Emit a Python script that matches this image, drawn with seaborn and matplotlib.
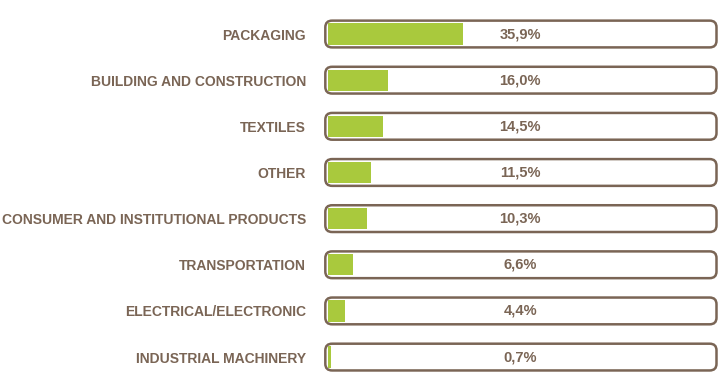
import matplotlib
matplotlib.use("Agg")
import matplotlib.pyplot as plt
import seaborn as sns
import pandas as pd
from matplotlib.patches import FancyBboxPatch

# Data
sectors = ["PACKAGING", "BUILDING AND CONSTRUCTION", "TEXTILES", "OTHER",
           "CONSUMER AND INSTITUTIONAL PRODUCTS", "TRANSPORTATION",
           "ELECTRICAL/ELECTRONIC", "INDUSTRIAL MACHINERY"]
shares = [35.9, 16.0, 14.5, 11.5, 10.3, 6.6, 4.4, 0.7]
share_labels = ["35,9%", "16,0%", "14,5%", "11,5%", "10,3%", "6,6%", "4,4%", "0,7%"]

brown = "#7a6555"
green = "#a9c93d"

sns.set_theme(style="white")
plt.rcParams["font.family"] = ["Liberation Sans", "DejaVu Sans"]

df = pd.DataFrame({"sector": sectors, "share": shares})

fig = plt.figure(figsize=(7.26, 3.76), dpi=100)
ax = fig.add_axes([324 / 726, 0, 394 / 726, 1])

# Rounded outline boxes (full track)
xmin, xmax = -0.7, 103.0
for i in range(len(sectors)):
    box = FancyBboxPatch((xmin, i - 0.29), xmax - xmin, 0.58,
                         boxstyle="round,pad=0,rounding_size=1.8",
                         mutation_aspect=0.08,
                         facecolor="white", edgecolor=brown, linewidth=1.8, zorder=1)
    ax.add_patch(box)

sns.barplot(data=df, x="share", y="sector", orient="h", color=green,
            width=0.46, saturation=1, linewidth=0, ax=ax, zorder=2)

for i, lab in enumerate(share_labels):
    ax.text(51, i, lab, ha="center", va="center", color=brown,
            fontsize=10.5, fontweight="bold", zorder=3)

ax.set_xlim(-1.05, 103.4)
ax.set_ylim(7.41, -0.737)
ax.set_xlabel("")
ax.set_ylabel("")
ax.set_xticks([])
ax.tick_params(axis="y", length=0, pad=13)
for t in ax.get_yticklabels():
    t.set_color(brown)
    t.set_fontweight("bold")
    t.set_fontsize(10)
sns.despine(ax=ax, left=True, bottom=True)

fig.savefig("out.png", dpi=100)
